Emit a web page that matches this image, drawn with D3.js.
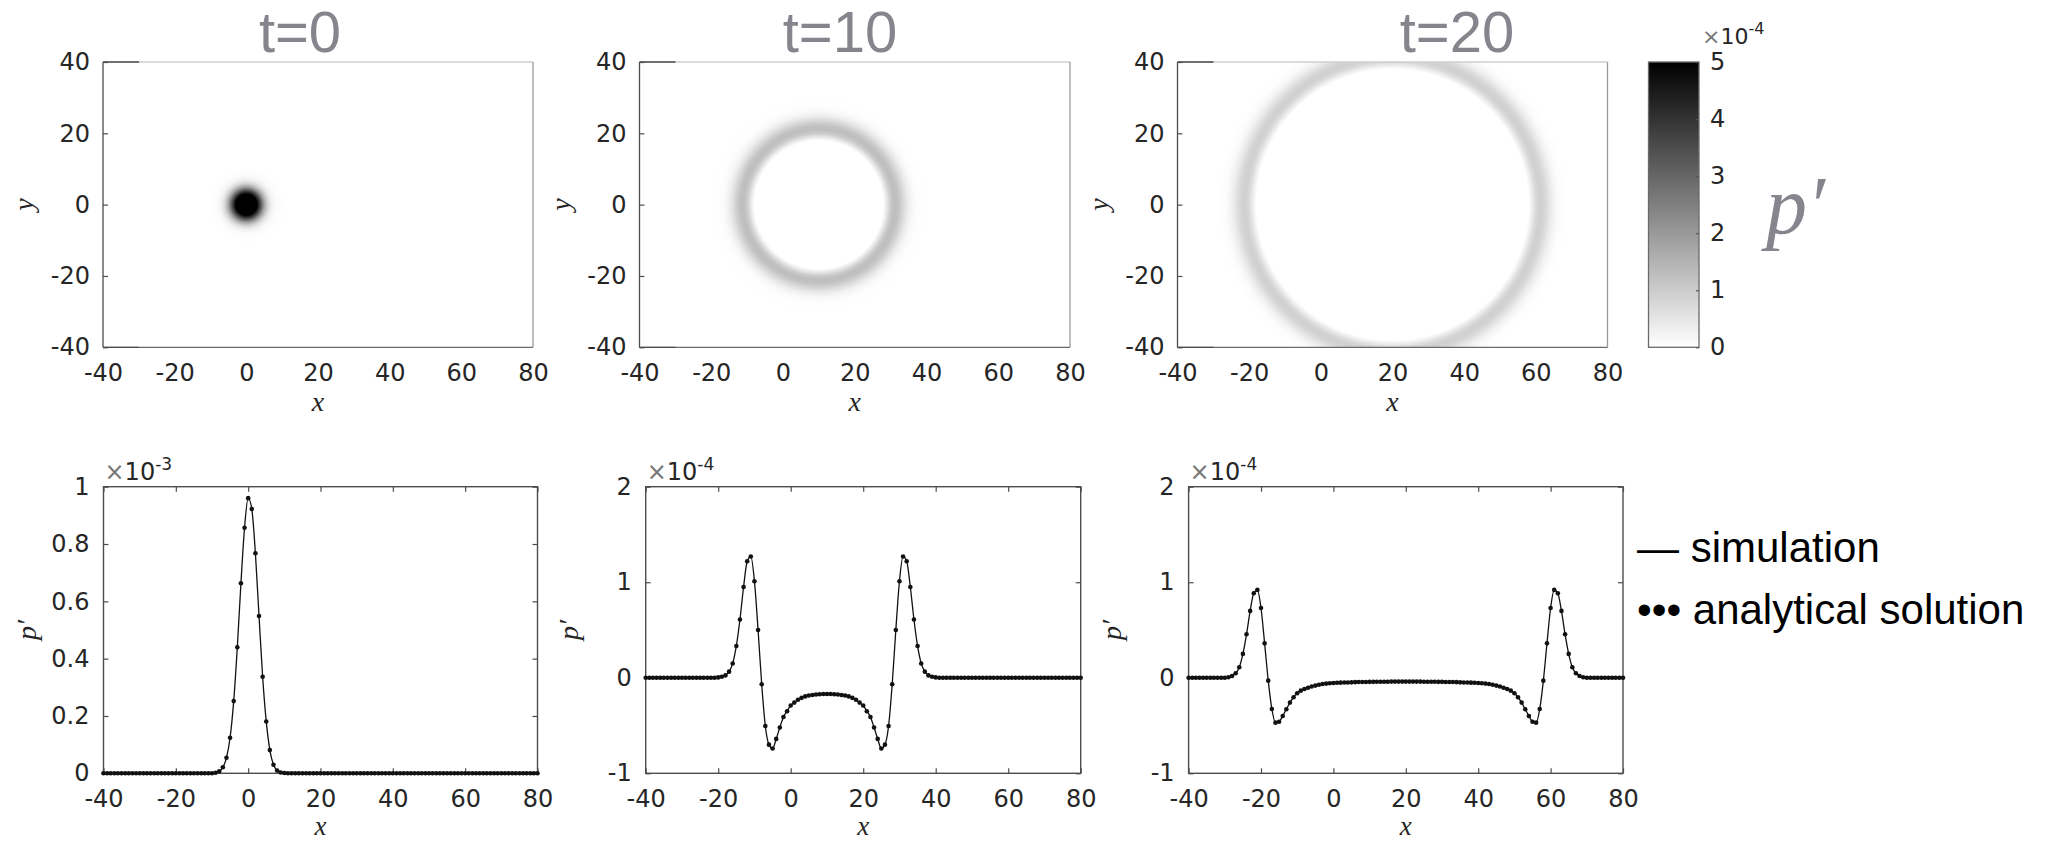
<!DOCTYPE html>
<html><head><meta charset="utf-8">
<script src="https://cdn.jsdelivr.net/npm/d3@7"></script>
<style>body{margin:0;background:#fff} svg{display:block}</style>
</head><body>
<svg id="c" width="2054" height="844"></svg>
<script>
// ---------------- DATA ----------------
const xGrid = d3.range(-40, 81, 1);           // sample positions of the line plots
const titles = ["t=0", "t=10", "t=20"];
const pulseCenters = [0, 10, 20];              // centre of the circular pulse (x), y = 0
// p' along y=0 (values in units of 10^profileExp)
const p_t0 = [
  0,0,0,0,0,0,0,0,0,0, 0,0,0,0,0,0,0,0,0,0, 0,0,0,0,0,0,0,0,0,0, 0,
  0.002,0.007,0.021,0.054,0.124,0.252,0.44,0.663,0.857,
  0.96,
  0.922,0.768,0.549,0.337,0.181,0.081,0.03,0.01,0.003,0.001,
  0,0,0,0,0,0,0,0,0,0, 0,0,0,0,0,0,0,0,0,0, 0,0,0,0,0,0,0,0,0,0,
  0,0,0,0,0,0,0,0,0,0, 0,0,0,0,0,0,0,0,0,0, 0,0,0,0,0,0,0,0,0,0, 0,0,0,0,0,0,0,0,0,0
];
const p_t10 = [
  0,0,0,0,0,0,0,0,0,0, 0,0,0,0,0,0,0,0,0,0,
  0.004,0.01,0.025,0.064,0.15,0.333,0.61,0.95,1.22,1.27,1.01,0.50,-0.068,-0.505,-0.70,-0.74,
  -0.64,-0.52,-0.41,-0.35,-0.29,-0.26,-0.23,-0.21,-0.195,-0.185,-0.18,-0.175,-0.172,-0.17,
  -0.17,
  -0.17,-0.172,-0.175,-0.18,-0.185,-0.195,-0.21,-0.23,-0.26,-0.29,-0.35,-0.41,-0.52,-0.64,
  -0.74,-0.70,-0.505,-0.068,0.50,1.01,1.27,1.22,0.95,0.61,0.333,0.15,0.064,0.025,0.01,0.004,
  0,0,0,0,0,0,0,0,0,0, 0,0,0,0,0,0,0,0,0,0, 0,0,0,0,0,0,0,0,0,0, 0,0,0,0,0,0,0,0,0,0
];
const p_t20 = [
  0,0,0,0,0,0,0,0,0,0, 0,
  0.006,0.018,0.047,0.11,0.25,0.455,0.70,0.885,0.92,0.73,0.36,-0.03,-0.327,-0.47,-0.46,
  -0.40,-0.33,-0.26,-0.204,-0.162,-0.135,-0.118,-0.104,-0.092,-0.082,-0.073,-0.066,-0.061,-0.057,
  -0.054,-0.052,-0.051,-0.05,-0.049,-0.048,-0.046,-0.045,-0.045,-0.044,-0.043,-0.043,-0.042,-0.042,
  -0.041,-0.041,-0.04,-0.04,-0.04,-0.04,
  -0.04,
  -0.04,-0.04,-0.04,-0.04,-0.041,-0.041,-0.042,-0.042,-0.043,-0.043,-0.044,-0.045,-0.045,-0.046,
  -0.048,-0.049,-0.05,-0.051,-0.052,-0.054,-0.057,-0.061,-0.066,-0.073,-0.082,-0.092,-0.104,-0.118,
  -0.135,-0.162,-0.204,-0.26,-0.33,-0.40,-0.46,-0.47,-0.327,-0.03,0.36,0.73,0.92,0.885,0.70,0.455,
  0.25,0.11,0.047,0.018,0.006,
  0,0,0,0,0,0,0,0,0,0, 0
];
const profiles = [p_t0, p_t10, p_t20];
const profileExp = [-3, -4, -4];
const xTicks = [-40, -20, 0, 20, 40, 60, 80];
const yTicksMap = [-40, -20, 0, 20, 40];
const yTicksLine = [[0, 0.2, 0.4, 0.6, 0.8, 1], [-1, 0, 1, 2], [-1, 0, 1, 2]];
const yDomainLine = [[0, 1], [-1, 2], [-1, 2]];
const cbTicks = [0, 1, 2, 3, 4, 5];
const cbExp = -4;
const legendLabels = ["\u2014 simulation", "\u2022\u2022\u2022 analytical solution"];

// ---------------- LAYOUT ----------------
const mapBoxes = [
  {x: 103, y: 62, w: 430, h: 285.3},
  {x: 639.5, y: 62, w: 430.5, h: 285.3},
  {x: 1177.5, y: 62, w: 430, h: 285.3}
];
const lineBoxes = [
  {x: 103.5, y: 486.7, w: 434, h: 286.6},
  {x: 645.7, y: 486.7, w: 435, h: 286.6},
  {x: 1188.6, y: 486.7, w: 434.4, h: 286.6}
];
const titlePos = [300, 840, 1457];
const cbBox = {x: 1648.5, y: 62, w: 50.5, h: 285.3};

const TXT = "#262626", AX = "#4d4d4d", GREY = "#85858d";
const tickFont = "'DejaVu Sans', sans-serif";
const serif = "'Liberation Serif', 'DejaVu Serif', serif";

const svg = d3.select("#c");
const defs = svg.append("defs");
const color = d3.scaleLinear().domain([0, 5]).range(["#ffffff", "#000000"]).clamp(true);

function styleAxis(g) {
  g.select(".domain").remove();
  g.selectAll(".tick line").attr("stroke", AX).attr("stroke-width", 1.2);
  g.selectAll(".tick text").attr("fill", TXT).style("font-family", tickFont).style("font-size", "24px");
}
const fmt = d => String(d);

// ---------------- TOP ROW: fields ----------------
mapBoxes.forEach((b, i) => {
  const g = svg.append("g");
  const xs = d3.scaleLinear().domain([-40, 80]).range([b.x, b.x + b.w]);
  const ys = d3.scaleLinear().domain([-40, 40]).range([b.y + b.h, b.y]);
  const c = pulseCenters[i];
  const samples = xGrid.map((x, k) => ({r: x - c, v: profiles[i][k] * Math.pow(10, profileExp[i] - cbExp)}))
                       .filter(d => d.r >= 0);
  const R = d3.max(samples, d => d.r);
  const grad = defs.append("radialGradient").attr("id", "rg" + i)
    .attr("cx", "50%").attr("cy", "50%").attr("r", "50%");
  samples.forEach(s => grad.append("stop").attr("offset", s.r / R).attr("stop-color", color(s.v)));
  defs.append("clipPath").attr("id", "clip" + i).append("rect")
    .attr("x", b.x).attr("y", b.y).attr("width", b.w).attr("height", b.h);
  g.append("rect").attr("x", b.x).attr("y", b.y).attr("width", b.w).attr("height", b.h).attr("fill", "#fff");
  g.append("ellipse").attr("clip-path", `url(#clip${i})`)
    .attr("cx", xs(c)).attr("cy", ys(0))
    .attr("rx", xs(c + R) - xs(c)).attr("ry", ys(0) - ys(R))
    .attr("fill", `url(#rg${i})`);
  // box
  g.append("line").attr("x1", b.x).attr("x2", b.x + b.w).attr("y1", b.y).attr("y2", b.y).attr("stroke", "#cfcfcf").attr("stroke-width", 1.3);
  g.append("line").attr("x1", b.x + b.w).attr("x2", b.x + b.w).attr("y1", b.y).attr("y2", b.y + b.h).attr("stroke", "#9a9a9a").attr("stroke-width", 1.3);
  g.append("line").attr("x1", b.x).attr("x2", b.x + b.w).attr("y1", b.y + b.h).attr("y2", b.y + b.h).attr("stroke", "#6a6a6a").attr("stroke-width", 1.3);
  g.append("line").attr("x1", b.x).attr("x2", b.x + 36).attr("y1", b.y).attr("y2", b.y).attr("stroke", AX).attr("stroke-width", 1.3);
  g.append("line").attr("x1", b.x).attr("x2", b.x + 36).attr("y1", b.y + b.h).attr("y2", b.y + b.h).attr("stroke", AX).attr("stroke-width", 1.3);
  g.append("line").attr("x1", b.x).attr("x2", b.x).attr("y1", b.y).attr("y2", b.y + b.h).attr("stroke", AX).attr("stroke-width", 1.3);
  // axes
  g.append("g").attr("transform", `translate(0,${b.y + b.h})`)
    .call(d3.axisBottom(xs).tickValues(xTicks).tickFormat(fmt).tickSizeInner(0).tickSizeOuter(0).tickPadding(17))
    .call(styleAxis);
  g.append("g").attr("transform", `translate(${b.x},0)`)
    .call(d3.axisLeft(ys).tickValues(yTicksMap).tickFormat(fmt).tickSizeInner(-5).tickSizeOuter(0).tickPadding(13))
    .call(styleAxis);
  g.append("text").attr("x", b.x + b.w / 2).attr("y", b.y + b.h + 64).attr("text-anchor", "middle")
    .style("font-family", serif).style("font-style", "italic").style("font-size", "28px").attr("fill", TXT).text("x");
  g.append("text").attr("transform", `translate(${b.x - 70},${b.y + b.h / 2}) rotate(-90)`).attr("text-anchor", "middle")
    .style("font-family", serif).style("font-style", "italic").style("font-size", "28px").attr("fill", TXT).text("y");
  svg.append("text").attr("x", titlePos[i]).attr("y", 52).attr("text-anchor", "middle")
    .style("font-family", "'Liberation Sans', Arial, sans-serif").style("font-size", "58px").attr("fill", GREY).text(titles[i]);
});

// ---------------- colour bar ----------------
{
  const lg = defs.append("linearGradient").attr("id", "cbg").attr("x1", 0).attr("y1", 1).attr("x2", 0).attr("y2", 0);
  cbTicks.forEach(t => lg.append("stop").attr("offset", t / 5).attr("stop-color", color(t)));
  const cs = d3.scaleLinear().domain([0, 5]).range([cbBox.y + cbBox.h, cbBox.y]);
  svg.append("rect").attr("x", cbBox.x).attr("y", cbBox.y).attr("width", cbBox.w).attr("height", cbBox.h)
    .attr("fill", "url(#cbg)").attr("stroke", "#6a6a6a").attr("stroke-width", 1.3);
  const ga = svg.append("g").attr("transform", `translate(${cbBox.x + cbBox.w},0)`)
    .call(d3.axisRight(cs).tickValues(cbTicks).tickFormat(fmt).tickSizeInner(-3).tickSizeOuter(0).tickPadding(11))
    .call(styleAxis);
  ga.selectAll(".tick line").attr("stroke", "#555");
  const ex = svg.append("text").attr("x", cbBox.x + cbBox.w + 3).attr("y", 44)
    .style("font-family", tickFont).style("font-size", "22px").attr("fill", TXT);
  ex.append("tspan").attr("fill", "#777").text("\u00d7");
  ex.append("tspan").text("10");
  ex.append("tspan").attr("dy", -10).style("font-size", "16px").text(String(cbExp));
  svg.append("text").attr("x", 1766).attr("y", 233)
    .style("font-family", serif).style("font-style", "italic").style("font-size", "82px").attr("fill", GREY).text("p\u2032");
}

// ---------------- BOTTOM ROW: line plots ----------------
lineBoxes.forEach((b, i) => {
  const g = svg.append("g");
  const xs = d3.scaleLinear().domain([-40, 80]).range([b.x, b.x + b.w]);
  const ys = d3.scaleLinear().domain(yDomainLine[i]).range([b.y + b.h, b.y]);
  const data = xGrid.map((x, k) => ({x, v: profiles[i][k]}));
  g.append("rect").attr("x", b.x).attr("y", b.y).attr("width", b.w).attr("height", b.h)
    .attr("fill", "#fff").attr("stroke", AX).attr("stroke-width", 1.4);
  g.append("g").attr("transform", `translate(0,${b.y + b.h})`)
    .call(d3.axisBottom(xs).tickValues(xTicks).tickFormat(fmt).tickSizeInner(-5).tickSizeOuter(0).tickPadding(17)).call(styleAxis);
  g.append("g").attr("transform", `translate(0,${b.y})`)
    .call(d3.axisTop(xs).tickValues(xTicks).tickFormat("").tickSizeInner(-5).tickSizeOuter(0)).call(styleAxis);
  g.append("g").attr("transform", `translate(${b.x},0)`)
    .call(d3.axisLeft(ys).tickValues(yTicksLine[i]).tickFormat(fmt).tickSizeInner(-5).tickSizeOuter(0).tickPadding(14)).call(styleAxis);
  g.append("g").attr("transform", `translate(${b.x + b.w},0)`)
    .call(d3.axisRight(ys).tickValues(yTicksLine[i]).tickFormat("").tickSizeInner(-5).tickSizeOuter(0)).call(styleAxis);
  // simulation line
  g.append("path").datum(data)
    .attr("d", d3.line().x(d => xs(d.x)).y(d => ys(d.v)).curve(d3.curveMonotoneX))
    .attr("fill", "none").attr("stroke", "#111").attr("stroke-width", 1.3);
  // analytical points
  g.append("g").selectAll("circle").data(data).join("circle")
    .attr("cx", d => xs(d.x)).attr("cy", d => ys(d.v)).attr("r", 2.3).attr("fill", "#111");
  // exponent
  const ex = g.append("text").attr("x", b.x + 1).attr("y", b.y - 7)
    .style("font-family", tickFont).style("font-size", "24px").attr("fill", TXT);
  ex.append("tspan").attr("fill", "#777").text("\u00d7");
  ex.append("tspan").text("10");
  ex.append("tspan").attr("dy", -10).style("font-size", "17px").text(String(profileExp[i]));
  g.append("text").attr("x", b.x + b.w / 2).attr("y", b.y + b.h + 62).attr("text-anchor", "middle")
    .style("font-family", serif).style("font-style", "italic").style("font-size", "27px").attr("fill", TXT).text("x");
  g.append("text").attr("transform", `translate(${b.x - 68},${b.y + b.h / 2}) rotate(-90)`).attr("text-anchor", "middle")
    .style("font-family", serif).style("font-style", "italic").style("font-size", "28px").attr("fill", TXT).text("p\u2032");
});

// ---------------- legend ----------------
svg.append("g").selectAll("text").data(legendLabels).join("text")
  .attr("x", 1637).attr("y", (d, i) => 562 + i * 61.5)
  .style("font-family", "'Liberation Sans', Arial, sans-serif").style("font-size", "42px").attr("fill", "#000")
  .text(d => d);
</script>
</body></html>
